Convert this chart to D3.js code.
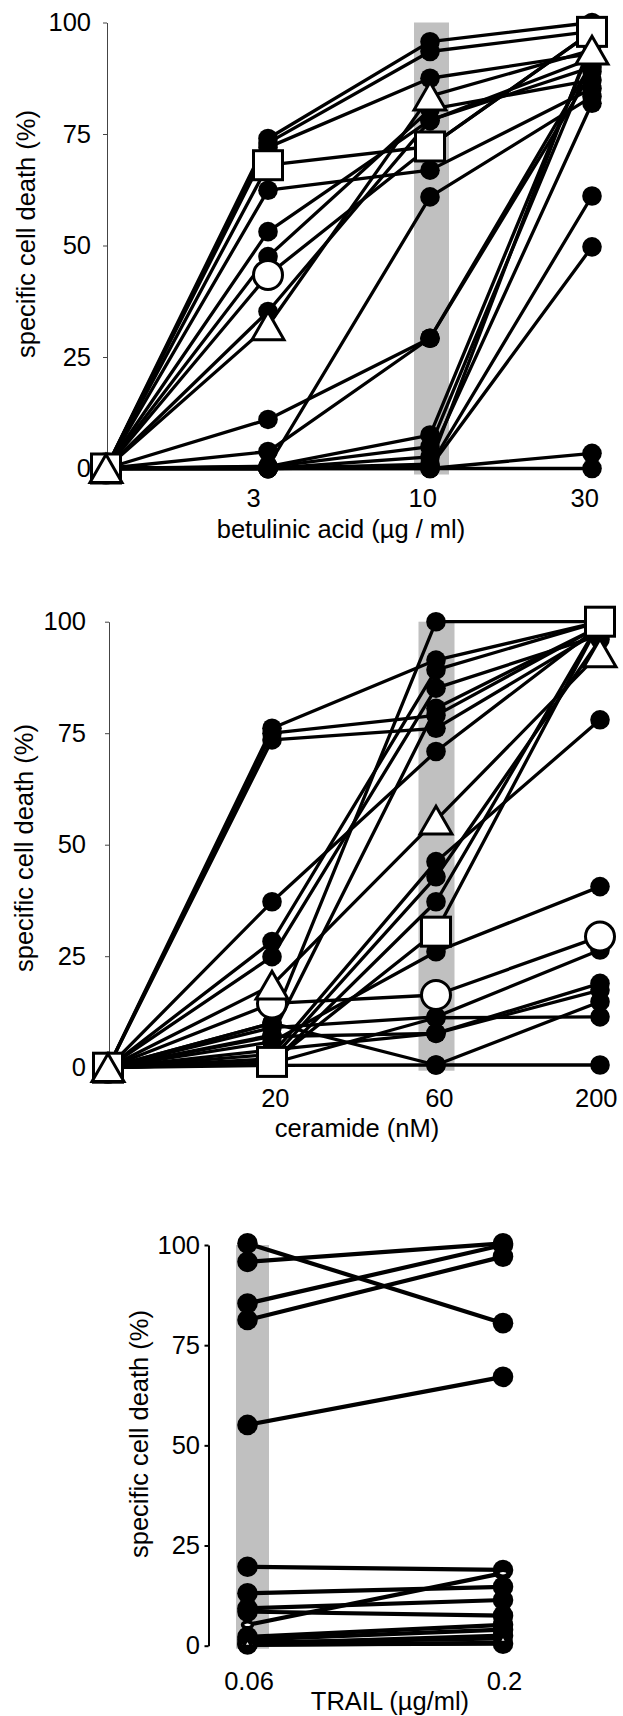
<!DOCTYPE html>
<html>
<head>
<meta charset="utf-8">
<script src="https://cdn.jsdelivr.net/npm/d3@7"></script>
<style>
  body { margin: 0; background: #fff; }
  svg { display: block; }
</style>
</head>
<body>
<script>
// ---------------- data ----------------
const yTickValues = [0, 25, 50, 75, 100];

// betulinic acid: control, 3, 10, 30 µg/ml
const betulinicDoses = ["0", "3", "10", "30"];
const betulinicTicks = ["3", "10", "30"];
const betulinicDots = [
  [0, 74, 95.7, 100],
  [0, 73, 93.5, 98],
  [0, 72, 87.5, 93],
  [0, 62.4, 66.9, 85.2],
  [0, 53.1, 78.1, 90],
  [0, 47.5, 80.5, 87.1],
  [0, 35.2, 78, 92],
  [0, 0.5, 60.9, 83.4],
  [0, 11, 29.2, 91],
  [0, 3.8, 29.2, 89],
  [0, 0.4, 7.5, 95],
  [0, 0.3, 4.9, 92],
  [0, 0, 2.6, 81.9],
  [0, 0, 1, 96],
  [0, 0, 0.5, 61.1],
  [0, 0, 0.3, 49.7],
  [0, 0, 0, 3.4],
  [0, 0, 0, 0]
];
const betulinicCircle = [0, 43.4, 72.2, 97.9];
const betulinicSquare = [0, 68, 72.2, 97.9];
const betulinicTriangle = [0, 32, 83.5, 93.8];

// ceramide: control, 20, 60, 200 nM
const ceramideDoses = ["0", "20", "60", "200"];
const ceramideTicks = ["20", "60", "200"];
const ceramideDots = [
  [0, 76.1, 91.4, 100],
  [0, 75, 79, 99],
  [0, 73.5, 76.1, 98],
  [0, 37.2, 70.9, 99],
  [0, 28.3, 89.2, 100],
  [0, 24.9, 85.1, 97],
  [0, 10, 100, 100],
  [0, 7.3, 80.6, 99],
  [0, 3, 46.2, 78],
  [0, 2, 42.8, 96],
  [0, 1, 37.2, 100],
  [0, 5.8, 26, 40.6],
  [0, 9, 11.4, 26.4],
  [0, 7, 7.7, 18.9],
  [0, 4, 7.7, 17.4],
  [0, 10, 0.6, 14.8],
  [0, 1, 11.2, 11.4],
  [0, 0.5, 0.6, 0.6]
];
const ceramideCircle = [0, 14.4, 16.3, 29.4];
const ceramideSquare = [0, 1.3, 30.5, 100];
const ceramideTriangle = [0, 18.5, 55.5, 93];

// TRAIL: 0.06, 0.2 µg/ml
const trailDoses = ["0.06", "0.2"];
const trailTicks = ["0.06", "0.2"];
const trailDots = [
  [100.4, 80.5],
  [95.8, 100.4],
  [85.4, 100],
  [81.3, 97.1],
  [55.1, 67.1],
  [19.7, 18.9],
  [13.1, 14.7],
  [9.3, 11.4],
  [8.5, 7.5],
  [2.2, 5.2],
  [1.5, 4],
  [0.5, 2.5],
  [0.3, 0.5]
];
const trailCircle = [5.2, 18.1];
const trailSquare = [0.2, 0.7];
const trailTriangle = [0.8, 1.8];

// ---------------- layout ----------------
const FONT = "'Liberation Sans', Arial, Helvetica, sans-serif";
const FONT_SIZE = 25.5;

const svg = d3.select("body").append("svg")
  .attr("width", 623)
  .attr("height", 1716);

const panels = [
  {
    doses: betulinicDoses, ticks: betulinicTicks, dots: betulinicDots,
    circle: betulinicCircle, square: betulinicSquare, triangle: betulinicTriangle,
    band: "10", bandW: 35, bandDx: 1.5, bandPad: 6,
    xRange: [106, 592], yRange: [468.5, 22.5],
    axisX: 107, axisColor: "#444", axisW: 1, tickPad: 12,
    tickY: 506.5, tickAnchor: "start", tickDx: -22,
    xLabel: "betulinic acid (µg / ml)", xLabelX: 341, xLabelY: 538,
    yLabelX: 35, yLabelY: 234,
    r: 9.8, lineW: 3.3, mark: 32, markStroke: 3, small: false
  },
  {
    doses: ceramideDoses, ticks: ceramideTicks, dots: ceramideDots,
    circle: ceramideCircle, square: ceramideSquare, triangle: ceramideTriangle,
    band: "60", bandW: 36, bandDx: 0.5, bandPad: 3,
    xRange: [108, 600], yRange: [1067.7, 621.7],
    axisX: 109, axisColor: "#444", axisW: 1, tickPad: 19,
    tickY: 1106.5, tickAnchor: "end", tickDx: 17,
    xLabel: "ceramide (nM)", xLabelX: 357, xLabelY: 1136.5,
    yLabelX: 33, yLabelY: 848,
    r: 9.8, lineW: 3.3, mark: 32, markStroke: 3, small: false
  },
  {
    doses: trailDoses, ticks: trailTicks, dots: trailDots,
    circle: trailCircle, square: trailSquare, triangle: trailTriangle,
    band: "0.06", bandW: 33, bandDx: 5, bandPad: 3,
    xRange: [247.5, 503], yRange: [1645.7, 1245],
    axisX: 208.5, axisColor: "#000", axisW: 2, tickPad: 4.5,
    tickY: 1690, tickAnchor: "middle", tickDx: 1,
    xLabel: "TRAIL (µg/ml)", xLabelX: 390, xLabelY: 1710,
    yLabelX: 148, yLabelY: 1434,
    r: 10.3, lineW: 4.2, mark: 14, markStroke: 3.5, small: true
  }
];

function drawPanel(p) {
  const x = d3.scalePoint().domain(p.doses).range(p.xRange);
  const y = d3.scaleLinear().domain([0, 100]).range(p.yRange);
  const g = svg.append("g");

  // grey highlight band
  g.append("rect")
    .attr("x", x(p.band) + p.bandDx - p.bandW / 2)
    .attr("y", y(100))
    .attr("width", p.bandW)
    .attr("height", y(0) - y(100) + p.bandPad)
    .attr("fill", "#c0c0c0");

  // y axis
  const yAxis = g.append("g")
    .attr("transform", `translate(${p.axisX},0)`)
    .call(d3.axisLeft(y).tickValues(yTickValues).tickSize(4).tickSizeOuter(0).tickPadding(p.tickPad));
  yAxis.attr("font-family", FONT).attr("font-size", FONT_SIZE);
  yAxis.select(".domain").attr("stroke", p.axisColor).attr("stroke-width", p.axisW);
  yAxis.selectAll(".tick line").attr("stroke", p.axisColor).attr("stroke-width", p.axisW);
  yAxis.selectAll(".tick text").attr("fill", "#000");

  // dose labels (no x axis line)
  const xAxis = g.append("g")
    .attr("transform", `translate(0,${p.tickY})`)
    .call(d3.axisBottom(x).tickValues(p.ticks).tickSize(0));
  xAxis.attr("font-family", FONT).attr("font-size", FONT_SIZE);
  xAxis.select(".domain").remove();
  xAxis.selectAll(".tick text")
    .attr("y", 0).attr("dy", null)
    .attr("dx", p.tickDx)
    .attr("text-anchor", p.tickAnchor)
    .attr("fill", "#000");

  // axis titles
  g.append("text")
    .attr("x", p.xLabelX).attr("y", p.xLabelY)
    .attr("text-anchor", "middle")
    .attr("font-family", FONT).attr("font-size", FONT_SIZE)
    .text(p.xLabel);
  g.append("text")
    .attr("transform", `translate(${p.yLabelX},${p.yLabelY}) rotate(-90)`)
    .attr("text-anchor", "middle")
    .attr("font-family", FONT).attr("font-size", FONT_SIZE)
    .text("specific cell death (%)");

  // connecting lines
  const line = d3.line()
    .x((d, i) => x(p.doses[i]))
    .y(d => y(d));
  const series = p.dots.concat([p.circle, p.square, p.triangle]);
  g.append("g").selectAll("path")
    .data(series)
    .join("path")
    .attr("d", line)
    .attr("fill", "none")
    .attr("stroke", "#000")
    .attr("stroke-width", p.lineW)
    .attr("stroke-linejoin", "round");

  const pts = s => s.map((v, i) => ({ x: x(p.doses[i]), y: y(v) }));

  // filled dots
  g.append("g").selectAll("g")
    .data(p.dots)
    .join("g")
    .selectAll("circle")
    .data(pts)
    .join("circle")
    .attr("cx", d => d.x).attr("cy", d => d.y)
    .attr("r", p.r)
    .attr("fill", "#000");

  const s = p.mark - p.markStroke;

  // open circle
  g.append("g").selectAll("ellipse")
    .data(pts(p.circle))
    .join("ellipse")
    .attr("cx", d => d.x).attr("cy", d => d.y)
    .attr("rx", p.small ? 5 : s / 2)
    .attr("ry", p.small ? 3 : s / 2)
    .attr("fill", "#fff")
    .attr("stroke", "#000")
    .attr("stroke-width", p.markStroke);

  // open square
  const sqW = p.small ? s + 3 : s;
  const sqH = p.small ? 5 : s;
  g.append("g").selectAll("rect")
    .data(pts(p.square))
    .join("rect")
    .attr("x", d => d.x - sqW / 2).attr("y", d => d.y - sqH / 2)
    .attr("width", sqW).attr("height", sqH)
    .attr("fill", "#fff")
    .attr("stroke", "#000")
    .attr("stroke-width", p.markStroke);

  // open triangle
  const tw = p.small ? 9 : 32;
  const th = tw * 0.87;
  g.append("g").selectAll("path")
    .data(pts(p.triangle))
    .join("path")
    .attr("d", d => `M${d.x},${d.y - th / 2}L${d.x + tw / 2},${d.y + th / 2}L${d.x - tw / 2},${d.y + th / 2}Z`)
    .attr("fill", "#fff")
    .attr("stroke", "#000")
    .attr("stroke-width", p.markStroke)
    .attr("stroke-linejoin", "miter");
}

panels.forEach(drawPanel);
</script>
</body>
</html>
